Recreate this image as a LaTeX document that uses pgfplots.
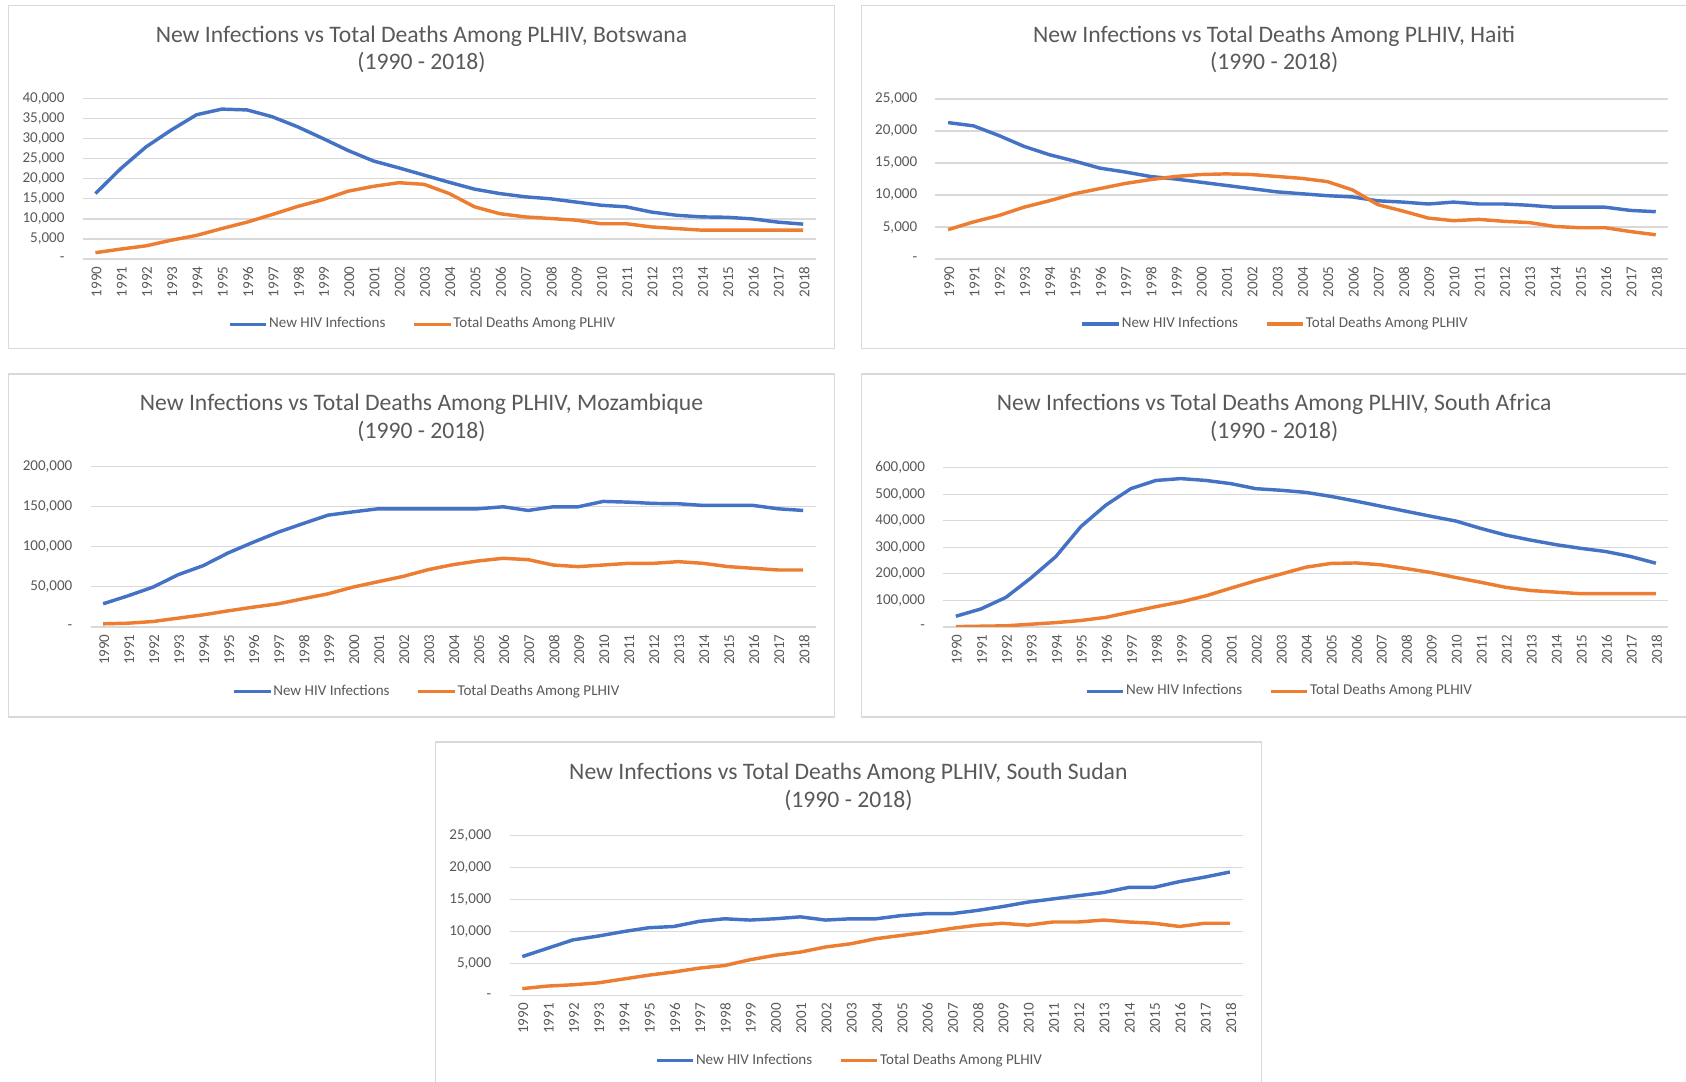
\documentclass[border=0pt]{standalone}
\usepackage{fontspec}
\setmainfont{Carlito}
\usepackage{pgfplots}
\usepackage{pgfplotstable}
\pgfplotsset{compat=1.18}

\definecolor{xlblue}{HTML}{4472C4}
\definecolor{xlorange}{HTML}{ED7D31}
\definecolor{xlgrid}{HTML}{D9D9D9}
\definecolor{xltext}{HTML}{595959}

% year, new infections, total deaths
\pgfplotstableread{
year inf dth
1990 16300 1600
1991 22500 2500
1992 27900 3300
1993 32100 4700
1994 35900 5900
1995 37300 7600
1996 37100 9200
1997 35400 11100
1998 32900 13100
1999 30000 14800
2000 27000 16900
2001 24400 18100
2002 22700 19000
2003 20900 18600
2004 19100 16300
2005 17400 13000
2006 16300 11300
2007 15500 10500
2008 15000 10100
2009 14200 9700
2010 13400 8800
2011 13000 8800
2012 11700 8000
2013 10900 7600
2014 10500 7200
2015 10400 7200
2016 10000 7200
2017 9200 7200
2018 8700 7200
}\botswana

\pgfplotstableread{
year inf dth
1990 21300 4600
1991 20800 5800
1992 19300 6800
1993 17600 8100
1994 16300 9100
1995 15300 10200
1996 14200 11000
1997 13600 11800
1998 12900 12400
1999 12500 12900
2000 12000 13200
2001 11500 13300
2002 11000 13200
2003 10500 12900
2004 10200 12600
2005 9900 12100
2006 9700 10800
2007 9100 8500
2008 8900 7500
2009 8600 6400
2010 8900 6000
2011 8600 6200
2012 8600 5900
2013 8400 5700
2014 8100 5100
2015 8100 4900
2016 8100 4900
2017 7600 4300
2018 7400 3800
}\haiti

\pgfplotstableread{
year inf dth
1990 28800 3800
1991 38800 4600
1992 49700 6700
1993 65100 10900
1994 76400 15000
1995 92300 20000
1996 105600 24600
1997 118200 28800
1998 129000 35100
1999 139500 41300
2000 143600 49700
2001 147400 56400
2002 147400 63000
2003 147400 71400
2004 147400 77700
2005 147400 82300
2006 149900 85600
2007 145300 83900
2008 149900 77200
2009 149900 75200
2010 156600 77200
2011 155700 79300
2012 154100 79300
2013 153700 81400
2014 151600 79300
2015 151600 75200
2016 151600 73100
2017 147400 71000
2018 145300 71000
}\mozambique

\pgfplotstableread{
year inf dth
1990 40000 1000
1991 67500 2500
1992 111000 4000
1993 184000 10000
1994 265000 16000
1995 378000 24000
1996 459000 36000
1997 521000 56000
1998 552000 76000
1999 559000 94000
2000 552000 117000
2001 540000 146000
2002 521000 174000
2003 515000 199000
2004 507000 225000
2005 492000 239000
2006 474000 241000
2007 455000 234000
2008 436000 220000
2009 417000 205000
2010 399000 186000
2011 371000 168000
2012 346000 149000
2013 327000 137000
2014 310000 131000
2015 296000 125000
2016 284000 125000
2017 265000 125000
2018 240000 125000
}\southafrica

\pgfplotstableread{
year inf dth
1990 6100 1100
1991 7400 1500
1992 8700 1700
1993 9300 2000
1994 10000 2600
1995 10600 3200
1996 10800 3700
1997 11600 4300
1998 12000 4700
1999 11800 5600
2000 12000 6300
2001 12300 6800
2002 11800 7600
2003 12000 8100
2004 12000 8900
2005 12500 9400
2006 12800 9900
2007 12800 10500
2008 13300 11000
2009 13900 11300
2010 14600 11000
2011 15100 11500
2012 15600 11500
2013 16100 11800
2014 16900 11500
2015 16900 11300
2016 17800 10800
2017 18500 11300
2018 19300 11300
}\southsudan

\pgfplotsset{
  panel/.style={
    scale only axis,
    anchor=south west,
    xmin=1989.5, xmax=2018.5,
    xtick={1990,...,2018},
    ymin=0,
    scaled y ticks=false,
    axis line style={draw=none},
    major tick length=0pt,
    ymajorgrids,
    major grid style={color=xlgrid, line width=0.6pt},
    tick label style={font=\fontsize{7}{8}\selectfont, text=xltext},
    xticklabel style={rotate=90, anchor=east, yshift=-0.5pt,
      /pgf/number format/1000 sep={}},
    yticklabel style={anchor=east, xshift=-5pt},
    /pgf/number format/assume math mode=true,
    every axis plot/.append style={line width=1.6pt, mark=none},
    legend columns=2,
    legend cell align=left,
    legend style={at={(0.463,-0.405)}, anchor=center, draw=none, fill=none,
      font=\fontsize{7}{8}\selectfont, text=xltext,
      nodes={inner sep=0.5pt},
      /tikz/every even column/.append style={column sep=12pt},
      inner sep=0pt},
    legend image code/.code={\draw[#1] (0pt,0pt) -- (17pt,0pt);},
  },
}
\tikzset{ttl/.style={align=center, text=xltext, font=\fontsize{11}{13}\selectfont}}

\begin{document}
\begin{tikzpicture}
\useasboundingbox (0,0) rectangle (784pt,503pt);
% panel frames
\draw[xlgrid, line width=0.7pt] (4pt,341pt) rectangle (388pt,500.5pt);
\draw[xlgrid, line width=0.7pt] (400.5pt,341pt) rectangle (790pt,500.5pt);
\draw[xlgrid, line width=0.7pt] (4pt,169.5pt) rectangle (388pt,329pt);
\draw[xlgrid, line width=0.7pt] (400.5pt,169.5pt) rectangle (790pt,329pt);
\draw[xlgrid, line width=0.7pt] (202.5pt,-5pt) rectangle (586.5pt,158pt);

% titles
\node[ttl] at (196pt,480pt) {New Infections vs Total Deaths Among PLHIV, Botswana\\(1990 - 2018)};
\node[ttl] at (592.5pt,480pt) {New Infections vs Total Deaths Among PLHIV, Haiti\\(1990 - 2018)};
\node[ttl] at (196pt,308.75pt) {New Infections vs Total Deaths Among PLHIV, Mozambique\\(1990 - 2018)};
\node[ttl] at (592.5pt,308.75pt) {New Infections vs Total Deaths Among PLHIV, South Africa\\(1990 - 2018)};
\node[ttl] at (394.5pt,137.25pt) {New Infections vs Total Deaths Among PLHIV, South Sudan\\(1990 - 2018)};

% Botswana
\begin{axis}[panel, at={(38.5pt,382.5pt)}, width=340.85pt, height=74.8pt,
  ymax=40000, ytick={0,5000,...,40000},
  yticklabels={{-\hspace{0.8em}},{5,000},{10,000},{15,000},{20,000},{25,000},{30,000},{35,000},{40,000}}]
\addplot[xlblue] table[x=year,y=inf]{\botswana};
\addplot[xlorange] table[x=year,y=dth]{\botswana};
\legend{New HIV Infections, Total Deaths Among PLHIV}
\end{axis}

% Haiti
\begin{axis}[panel, at={(435pt,382.5pt)}, width=340.8pt, height=74.5pt,
  ymax=25000, ytick={0,5000,...,25000},
  yticklabels={{-\hspace{0.8em}},{5,000},{10,000},{15,000},{20,000},{25,000}}]
\addplot[xlblue] table[x=year,y=inf]{\haiti};
\addplot[xlorange] table[x=year,y=dth]{\haiti};
\legend{New HIV Infections, Total Deaths Among PLHIV}
\end{axis}

% Mozambique
\begin{axis}[panel, at={(42.15pt,211.5pt)}, width=337.15pt, height=74.5pt,
  ymax=200000, ytick={0,50000,...,200000},
  yticklabels={{-\hspace{0.8em}},{50,000},{100,000},{150,000},{200,000}}]
\addplot[xlblue] table[x=year,y=inf]{\mozambique};
\addplot[xlorange] table[x=year,y=dth]{\mozambique};
\legend{New HIV Infections, Total Deaths Among PLHIV}
\end{axis}

% South Africa
\begin{axis}[panel, at={(438.65pt,211.5pt)}, width=337.15pt, height=74pt,
  ymax=600000, ytick={0,100000,...,600000},
  yticklabels={{-\hspace{0.8em}},{100,000},{200,000},{300,000},{400,000},{500,000},{600,000}}]
\addplot[xlblue] table[x=year,y=inf]{\southafrica};
\addplot[xlorange] table[x=year,y=dth]{\southafrica};
\legend{New HIV Infections, Total Deaths Among PLHIV}
\end{axis}

% South Sudan
\begin{axis}[panel, at={(237pt,40pt)}, width=340.8pt, height=74.5pt,
  ymax=25000, ytick={0,5000,...,25000},
  yticklabels={{-\hspace{0.8em}},{5,000},{10,000},{15,000},{20,000},{25,000}}]
\addplot[xlblue] table[x=year,y=inf]{\southsudan};
\addplot[xlorange] table[x=year,y=dth]{\southsudan};
\legend{New HIV Infections, Total Deaths Among PLHIV}
\end{axis}
\end{tikzpicture}
\end{document}
